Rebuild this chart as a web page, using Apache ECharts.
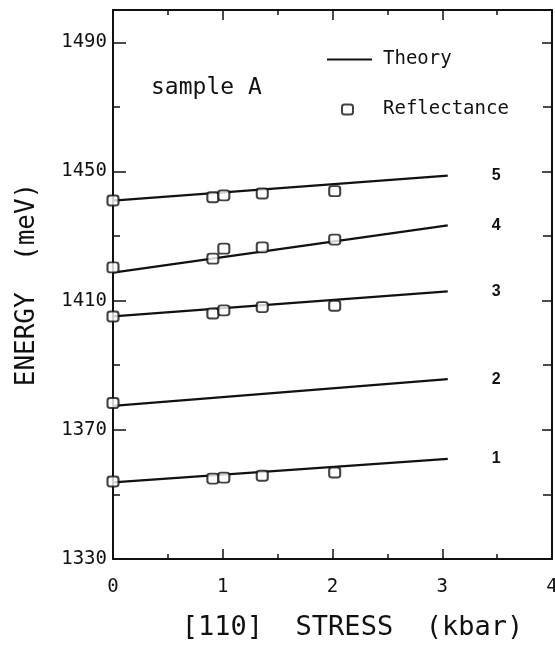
<!DOCTYPE html>
<html>
<head>
<meta charset="utf-8">
<script src="https://cdn.jsdelivr.net/npm/echarts@6/dist/echarts.min.js"></script>
<style>
	html, body { margin: 0; padding: 0; background: #fff; }
	#chart { width: 555px; height: 652px; }
</style>
</head>
<body>
<div id="chart"></div>
<script>
	// stress (kbar) for the theory lines and the measured points
	var theoryStress = [0, 3.05];
	var measStress = [0, 0.91, 1.01, 1.36, 2.02];
	var level2Stress = [0];

	// theory, energy (meV) at the two ends
	var theory1 = [1353.7, 1361.0];
	var theory2 = [1377.4, 1385.7];
	var theory3 = [1405.1, 1412.9];
	var theory4 = [1418.7, 1433.3];
	var theory5 = [1441.0, 1448.7];

	// reflectance points (meV)
	var refl1 = [1354.0, 1354.9, 1355.2, 1355.8, 1356.8];
	var refl2 = [1378.3];
	var refl3 = [1405.1, 1406.0, 1407.0, 1408.0, 1408.4];
	var refl4 = [1420.3, 1423.0, 1426.1, 1426.5, 1428.9];
	var refl5 = [1441.0, 1442.0, 1442.6, 1443.2, 1443.9];

	var lineNames = ['1', '2', '3', '4', '5'];
	var yTickLabels = [1330, 1370, 1410, 1450, 1490];

	var ink = '#111';
	var mono = 'DejaVu Sans Mono';

	function pairs(xs, ys) {
		var out = [];
		for (var i = 0; i < ys.length; i++) {
			out.push([xs[i], ys[i]]);
		}
		return out;
	}

	var theoryList = [theory1, theory2, theory3, theory4, theory5];
	var reflList = [
		pairs(measStress, refl1),
		pairs(level2Stress, refl2),
		pairs(measStress, refl3),
		pairs(measStress, refl4),
		pairs(measStress, refl5)
	];

	var series = [];
	for (var i = 0; i < theoryList.length; i++) {
		series.push({
			name: 'Theory',
			type: 'line',
			data: pairs(theoryStress, theoryList[i]),
			symbol: 'none',
			z: 2,
			lineStyle: { color: ink, width: 2.2 },
			itemStyle: { color: ink },
			endLabel: {
				show: true,
				formatter: lineNames[i],
				distance: 44,
				color: ink,
				fontFamily: 'Liberation Sans',
				fontWeight: 'bold',
				fontSize: 16
			}
		});
	}
	for (var j = 0; j < reflList.length; j++) {
		series.push({
			name: 'Reflectance',
			type: 'scatter',
			data: reflList[j],
			symbol: 'roundRect',
			symbolSize: [11, 10],
			z: 3,
			itemStyle: { color: '#fff', borderColor: ink, borderWidth: 2 }
		});
	}

	var axisLine = { show: true, onZero: false, lineStyle: { color: ink, width: 2 } };

	var myChart = echarts.init(document.getElementById('chart'));
	myChart.setOption({
		animation: false,
		title: {
			text: 'sample A',
			left: 151,
			top: 77,
			padding: 0,
			textStyle: { fontFamily: mono, fontSize: 23, fontWeight: 'normal', color: ink }
		},
		legend: [{
			data: [{ name: 'Theory', icon: 'rect', itemStyle: { color: ink } }],
			left: 327,
			top: 50,
			padding: 0,
			itemWidth: 45,
			itemHeight: 2,
			selectedMode: false,
			textStyle: { fontFamily: mono, fontSize: 19, color: ink, padding: [0, 0, 0, 6] }
		}, {
			data: [{ name: 'Reflectance', icon: 'roundRect',
				itemStyle: { color: '#fff', borderColor: ink, borderWidth: 2 } }],
			left: 341,
			top: 100,
			padding: 0,
			itemWidth: 11,
			itemHeight: 10,
			selectedMode: false,
			textStyle: { fontFamily: mono, fontSize: 19, color: ink, padding: [0, 0, 0, 25] }
		}],
		grid: { left: 113, right: 3, top: 10, bottom: 93, outerBoundsMode: 'none' },
		xAxis: [{
			type: 'value',
			position: 'bottom',
			min: 0,
			max: 4,
			interval: 1,
			axisLine: axisLine,
			axisTick: { inside: true, length: 10, lineStyle: { color: ink, width: 1.5 } },
			minorTick: { show: true, splitNumber: 2, length: 5, lineStyle: { color: ink, width: 1.5 } },
			splitLine: { show: false },
			axisLabel: { margin: 19, fontFamily: mono, fontSize: 19, color: ink },
			name: '[110]  STRESS  (kbar)',
			nameLocation: 'middle',
			nameGap: 55,
			nameTextStyle: { fontFamily: mono, fontSize: 27, color: ink, padding: [0, 0, 0, 40] }
		}, {
			type: 'value',
			position: 'top',
			min: 0,
			max: 4,
			interval: 1,
			axisLine: axisLine,
			axisTick: { inside: true, length: 10, lineStyle: { color: ink, width: 1.5 } },
			minorTick: { show: true, splitNumber: 2, length: 5, lineStyle: { color: ink, width: 1.5 } },
			splitLine: { show: false },
			axisLabel: { show: false }
		}],
		yAxis: [{
			type: 'value',
			position: 'left',
			min: 1330,
			max: 1500,
			interval: 40,
			axisLine: axisLine,
			axisTick: { inside: true, length: 13, lineStyle: { color: ink, width: 1.5 } },
			minorTick: { show: true, splitNumber: 2, length: 7, lineStyle: { color: ink, width: 1.5 } },
			splitLine: { show: false },
			axisLabel: {
				margin: 6,
				fontFamily: mono,
				fontSize: 19,
				color: ink,
				formatter: function (v) {
					return yTickLabels.indexOf(v) >= 0 ? String(v) : '';
				}
			},
			name: 'ENERGY  (meV)',
			nameLocation: 'middle',
			nameGap: 73,
			nameTextStyle: { fontFamily: mono, fontSize: 26, color: ink }
		}, {
			type: 'value',
			position: 'right',
			min: 1330,
			max: 1500,
			interval: 40,
			axisLine: axisLine,
			axisTick: { inside: true, length: 10, lineStyle: { color: ink, width: 1.5 } },
			minorTick: { show: true, splitNumber: 2, length: 9, lineStyle: { color: ink, width: 1.5 } },
			splitLine: { show: false },
			axisLabel: { show: false }
		}],
		series: series
	});
</script>
</body>
</html>
